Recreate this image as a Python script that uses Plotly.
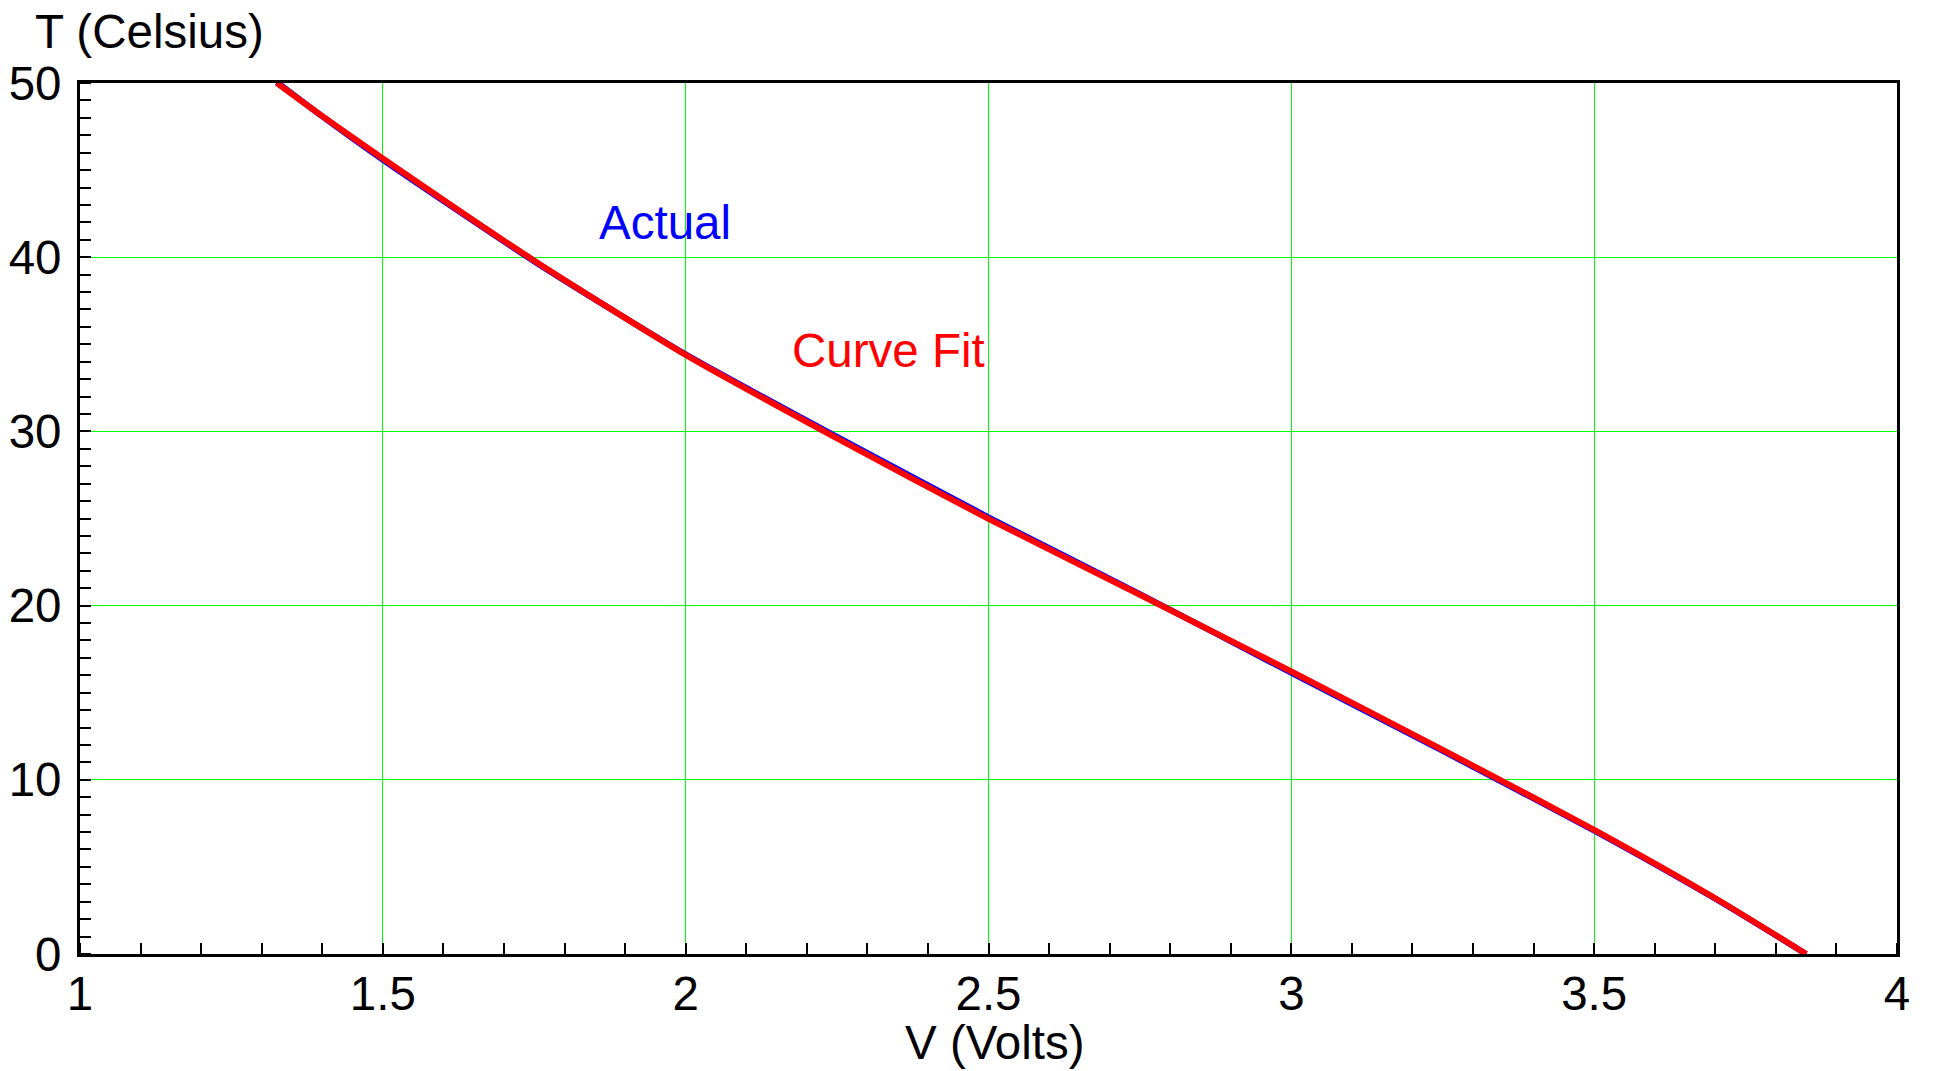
import plotly.graph_objects as go

# Data
volts_fit = [1.325, 1.40, 1.50, 1.75, 2.00, 2.25, 2.50, 2.75, 3.00, 3.25, 3.50, 3.70, 3.85]
temp_fit = [50.0, 48.1, 45.67, 39.8, 34.39, 29.6, 24.98, 20.62, 16.22, 11.72, 7.13, 3.2, 0.0]

volts_actual = [1.325, 1.40, 1.50, 1.75, 2.00, 2.25, 2.50, 2.75, 3.00, 3.25, 3.50, 3.70, 3.85]
temp_actual = [50.05, 48.08, 45.59, 39.76, 34.42, 29.68, 25.07, 20.66, 16.14, 11.66, 7.08, 3.17, 0.0]

x_ticks = [1, 1.5, 2, 2.5, 3, 3.5, 4]
y_ticks = [0, 10, 20, 30, 40, 50]

FONT = "Liberation Sans, Arial, sans-serif"
FS = 47.5

fig = go.Figure()
fig.add_trace(go.Scatter(x=volts_actual, y=temp_actual, mode="lines",
                         line=dict(color="#0000ff", width=6, shape="spline", smoothing=0.6),
                         name="Actual", showlegend=False))
fig.add_trace(go.Scatter(x=volts_fit, y=temp_fit, mode="lines",
                         line=dict(color="#ff0000", width=6, shape="spline", smoothing=0.6),
                         name="Curve Fit", showlegend=False))

axis_common = dict(
    showline=True, linewidth=3, linecolor="black", mirror=True,
    showgrid=True, gridcolor="#00ff00", gridwidth=1.4,
    zeroline=False, ticks="", automargin=False,
    tickfont=dict(family=FONT, size=FS, color="black"),
)

fig.update_xaxes(range=[1, 4], tickvals=x_ticks, ticktext=[str(v) for v in x_ticks],
                 minor=dict(dtick=0.1, ticks="inside", ticklen=11, tickwidth=1.5,
                            tickcolor="black", showgrid=False),
                 ticklabelstandoff=-4, **axis_common)
fig.update_yaxes(range=[0, 50], tickvals=y_ticks,
                 minor=dict(dtick=1, ticks="inside", ticklen=11, tickwidth=1.5,
                            tickcolor="black", showgrid=False),
                 ticklabelstandoff=6, **axis_common)

fig.add_annotation(text="Actual", x=1.853, y=42.0, xref="x", yref="y",
                   xanchor="left", yanchor="middle", showarrow=False,
                   font=dict(family=FONT, size=FS, color="#0000ff"))
fig.add_annotation(text="Curve Fit", x=2.173, y=34.66, xref="x", yref="y",
                   xanchor="left", yanchor="middle", showarrow=False,
                   font=dict(family=FONT, size=FS, color="#ff0000"))

fig.add_annotation(text="T (Celsius)", x=(25 - 72) / 1817, y=1 + (75 - 24) / 871,
                   xref="paper", yref="paper", xanchor="left", yanchor="middle",
                   showarrow=False, font=dict(family=FONT, size=FS, color="black"))
fig.add_annotation(text="V (Volts)", x=(995 - 80) / 1817, y=-(1042 - 954) / 871,
                   xref="paper", yref="paper", xanchor="center", yanchor="middle",
                   showarrow=False, font=dict(family=FONT, size=FS, color="black"))

# page body has an 8px margin, so the figure is sized/margined to compensate
fig.update_layout(
    width=1925, height=1063,
    margin=dict(l=72, r=36, t=75, b=117),
    plot_bgcolor="white", paper_bgcolor="white",
    font=dict(family=FONT, size=FS, color="black"),
)

fig.write_html("out.html")
